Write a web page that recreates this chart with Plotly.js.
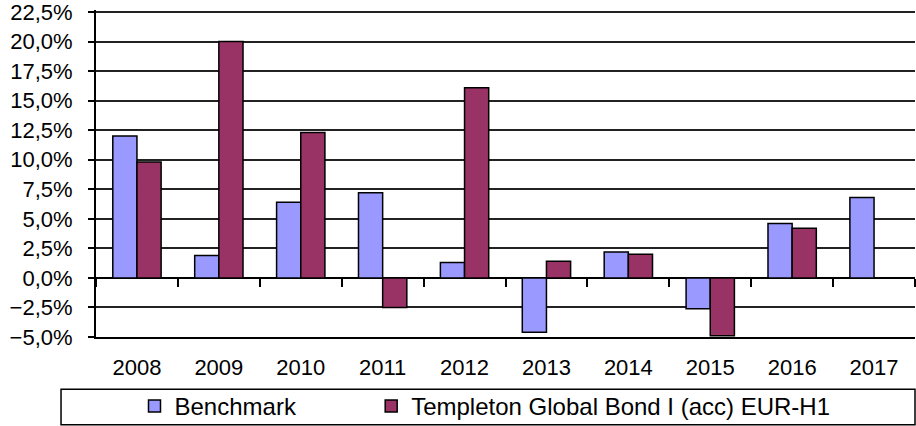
<!DOCTYPE html>
<html>
<head>
<meta charset="utf-8">
<script src="https://cdn.plot.ly/plotly-3.0.1.min.js"></script>
<style>
  html, body { margin: 0; padding: 0; background: #fff; }
  #chart { width: 916px; height: 426px; }
</style>
</head>
<body>
<div id="chart"></div>
<script>
// Years on the category axis
const years = ['2008', '2009', '2010', '2011', '2012', '2013', '2014', '2015', '2016', '2017'];

// Annual performance in %
const benchmark = [12.0, 1.9, 6.4, 7.2, 1.3, -4.6, 2.2, -2.6, 4.6, 6.8];
const templeton = [9.8, 20.0, 12.3, -2.5, 16.1, 1.4, 2.0, -4.9, 4.2, null];

const names = ['Benchmark', 'Templeton Global Bond I (acc) EUR-H1'];

const font = 'Liberation Sans, Arial, sans-serif';

const data = [
  {
    x: years,
    y: benchmark,
    type: 'bar',
    name: names[0],
    legend: 'legend',
    marker: { color: '#9999FF', line: { color: '#000', width: 1.5 } },
    hoverinfo: 'x+y',
  },
  {
    x: years,
    y: templeton,
    type: 'bar',
    name: names[1],
    legend: 'legend2',
    marker: { color: '#993366', line: { color: '#000', width: 1.5 } },
    hoverinfo: 'x+y',
  },
  // invisible helper so the tick marks on the zero line get drawn
  {
    x: years,
    y: benchmark,
    type: 'scatter',
    mode: 'markers',
    xaxis: 'x2',
    marker: { opacity: 0 },
    showlegend: false,
    hoverinfo: 'skip',
  },
];

const yMin = -5;
const yMax = 22.67; // ~2px above 22,5 so the top gridline and label are kept

const legendBase = {
  orientation: 'h',
  xanchor: 'left',
  y: -0.212,
  yanchor: 'middle',
  bgcolor: 'rgba(0,0,0,0)',
  borderwidth: 0,
  font: { family: font, size: 24, color: '#000' },
};

const layout = {
  width: 916,
  height: 426,
  margin: { l: 96, r: 1, t: 10, b: 89, autoexpand: false },
  paper_bgcolor: '#fff',
  plot_bgcolor: '#fff',
  separators: ', ',
  font: { family: font, size: 22, color: '#000' },
  barmode: 'group',
  bargap: 0.41,
  bargroupgap: 0,
  showlegend: true,
  xaxis: {
    type: 'category',
    categoryorder: 'array',
    categoryarray: years,
    range: [-0.5, years.length - 0.5],
    showgrid: false,
    zeroline: false,
    showline: true,
    linecolor: '#000',
    linewidth: 2,
    ticks: '',
    ticklabelstandoff: 10,
    tickfont: { family: font, size: 22, color: '#000' },
  },
  xaxis2: {
    type: 'category',
    categoryorder: 'array',
    categoryarray: years,
    range: [-0.5, years.length - 0.5],
    overlaying: 'x',
    anchor: 'free',
    position: (0 - yMin) / (yMax - yMin),
    side: 'bottom',
    showgrid: false,
    zeroline: false,
    showline: false,
    showticklabels: false,
    ticks: 'outside',
    tickson: 'boundaries',
    ticklen: 8,
    tickwidth: 2,
    tickcolor: '#000',
  },
  yaxis: {
    range: [yMin, yMax],
    dtick: 2.5,
    tick0: 0,
    tickformat: '.1f',
    ticksuffix: '%',
    showgrid: true,
    gridcolor: '#222',
    gridwidth: 2,
    zeroline: true,
    zerolinecolor: '#000',
    zerolinewidth: 2,
    showline: true,
    linecolor: '#000',
    linewidth: 2,
    ticks: 'outside',
    ticklen: 6,
    tickwidth: 2,
    tickcolor: '#000',
    ticklabelstandoff: 11,
    ticklabeloverflow: 'allow',
    tickfont: { family: font, size: 22, color: '#000' },
  },
  legend: Object.assign({}, legendBase, { x: 0.047 }),
  legend2: Object.assign({}, legendBase, { x: 0.336 }),
  shapes: [
    // legend frame
    {
      type: 'rect',
      xref: 'paper',
      yref: 'paper',
      x0: -0.0427,
      x1: 1,
      y0: -0.16,
      y1: -0.268,
      line: { color: '#000', width: 1.5 },
      fillcolor: 'rgba(0,0,0,0)',
      layer: 'below',
    },
  ],
};

Plotly.newPlot('chart', data, layout, { displayModeBar: false, staticPlot: true });
</script>
</body>
</html>
